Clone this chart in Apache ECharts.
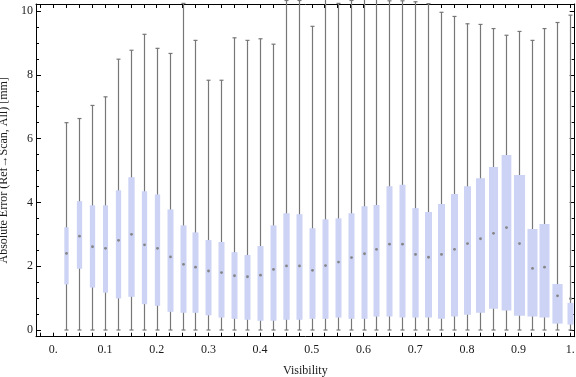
<!DOCTYPE html>
<html><head><meta charset="utf-8">
<script src="https://cdn.jsdelivr.net/npm/echarts@6/dist/echarts.min.js"></script>
<style>html,body{margin:0;padding:0;background:#fff}#c{width:576px;height:377px}</style>
</head><body><div id="c"></div>
<script>
// Visibility bins (box centres)
const visibility = [0.025,0.05,0.075,0.1,0.125,0.15,0.175,0.2,0.225,0.25,0.275,0.3,0.325,0.35,0.375,0.4,0.425,0.45,0.475,0.5,0.525,0.55,0.575,0.6,0.625,0.65,0.675,0.7,0.725,0.75,0.775,0.8,0.825,0.85,0.875,0.9,0.925,0.95,0.975,1.0];
const whiskerMin = [0,0,0,0,0,0,0,0,0,0,0,0,0,0,0,0,0,0,0,0,0,0,0,0,0,0,0,0,0,0,0,0,0,0,0,0,0,0,0,0];
const q1 = [1.43,1.92,1.33,1.17,0.99,1.04,0.81,0.76,0.57,0.54,0.54,0.46,0.39,0.35,0.32,0.29,0.29,0.32,0.32,0.35,0.35,0.39,0.35,0.35,0.42,0.42,0.39,0.39,0.39,0.35,0.42,0.48,0.54,0.67,0.61,0.45,0.42,0.39,0.20,0.17];
const median = [2.40,2.94,2.61,2.56,2.81,3.00,2.67,2.56,2.29,2.06,1.97,1.85,1.80,1.70,1.67,1.72,1.90,2.01,2.01,1.87,2.02,2.13,2.27,2.39,2.53,2.69,2.69,2.37,2.28,2.37,2.53,2.71,2.86,3.03,3.21,2.71,1.93,1.97,1.07,0.98];
const q3 = [3.22,4.04,3.91,3.91,4.38,4.79,4.35,4.25,3.78,3.28,3.06,2.82,2.76,2.44,2.35,2.63,3.28,3.66,3.63,3.19,3.47,3.50,3.66,3.88,3.92,4.51,4.55,3.82,3.70,3.95,4.26,4.51,4.76,5.11,5.49,4.86,3.17,3.32,1.44,0.85];
const whiskerMax = [6.50,6.63,7.04,7.31,8.49,8.77,9.27,8.83,8.67,10.24,9.08,7.83,7.83,9.16,9.08,9.13,8.96,10.33,10.33,9.52,10.6,10.24,10.33,10.6,10.6,10.32,10.32,10.29,10.23,9.96,9.83,9.60,9.58,9.45,9.24,9.36,9.08,9.45,9.64,9.87];
// relative bin weight (box width relative to a typical box)
const binWeight = [0.72,0.88,0.88,0.83,0.88,1.05,0.88,0.88,1,1,1,1,1,1,1,1,1,1.05,1,1,1,1,1,1,1,1,1,1.05,1.17,1.17,1.17,1.17,1.5,1.5,1.62,1.85,1.67,1.67,1.7,1.0];

const xLabelValues = [0,0.1,0.2,0.3,0.4,0.5,0.6,0.7,0.8,0.9,1.0];
const xLabelTexts = ['0.','0.1','0.2','0.3','0.4','0.5','0.6','0.7','0.8','0.9','1.'];
const xTickValues = [];
for (let i = -1; i <= 40; i++) xTickValues.push(+(i * 0.025).toFixed(3));
const yMajorValues = [0,2,4,6,8,10];
const yMinorValues = [];
for (let i = 0; i <= 20; i++) if (i % 4 !== 0) yMinorValues.push(i * 0.5);

const X_MIN = -0.0335, X_MAX = 1.0085, Y_MIN = -0.21, Y_MAX = 10.22;
const FONT = '"Liberation Serif","DejaVu Serif",serif';
const TXT = '#1a1a1a';

const data = visibility.map((v, i) => [v, whiskerMin[i], q1[i], median[i], q3[i], whiskerMax[i], binWeight[i]]);

function renderItem(params, api) {
  const x = api.value(0);
  const pMin = api.coord([x, api.value(1)]);
  const pQ1 = api.coord([x, api.value(2)]);
  const pMed = api.coord([x, api.value(3)]);
  const pQ3 = api.coord([x, api.value(4)]);
  const pMax = api.coord([x, api.value(5)]);
  const w = 6 * api.value(6);
  const cx = Math.round(pMin[0]) + 0.5;
  const ls = { stroke: '#777', lineWidth: 1.2 };
  return {
    type: 'group',
    children: [
      { type: 'line', shape: { x1: cx, y1: pMin[1], x2: cx, y2: pMax[1] }, style: ls },
      { type: 'line', shape: { x1: cx - 2, y1: pMin[1], x2: cx + 2, y2: pMin[1] }, style: ls },
      { type: 'line', shape: { x1: cx - 2, y1: pMax[1], x2: cx + 2, y2: pMax[1] }, style: ls },
      { type: 'rect', shape: { x: cx - w / 2, y: pQ3[1], width: w, height: pQ1[1] - pQ3[1] }, style: { fill: '#ccd3f5' } },
      { type: 'circle', shape: { cx: cx, cy: pMed[1], r: 1.4 }, style: { fill: '#858585' } }
    ]
  };
}

const axLine = { show: true, onZero: false, lineStyle: { color: '#000', width: 1 } };
function xAx(pos, withLabels) {
  return {
    type: 'value', position: pos, min: X_MIN, max: X_MAX,
    axisLine: axLine,
    axisTick: { show: true, inside: true, length: 4, customValues: xTickValues, lineStyle: { color: '#000' } },
    axisLabel: withLabels ? {
      show: true, customValues: xLabelValues, margin: 7,
      fontFamily: FONT, fontSize: 12, color: TXT,
      formatter: v => { const k = xLabelValues.findIndex(t => Math.abs(t - v) < 1e-6); return k >= 0 ? xLabelTexts[k] : ''; }
    } : { show: false },
    splitLine: { show: false },
    name: withLabels ? 'Visibility' : '',
    nameLocation: 'middle', nameGap: 28,
    nameTextStyle: { fontFamily: FONT, fontSize: 12, color: TXT }
  };
}
function yAx(pos, vals, len, withLabels, showLine) {
  return {
    type: 'value', position: pos, min: Y_MIN, max: Y_MAX, offset: 0,
    axisLine: showLine ? axLine : { show: false, onZero: false },
    axisTick: { show: true, inside: true, length: len, customValues: vals, lineStyle: { color: '#000' } },
    axisLabel: withLabels ? { show: true, customValues: vals, margin: 3, fontFamily: FONT, fontSize: 12, color: TXT } : { show: false },
    splitLine: { show: false },
    name: withLabels ? 'Absolute Error (Ref\u2192Scan, All) [mm]' : '',
    nameLocation: 'middle', nameGap: 23,
    nameTextStyle: { fontFamily: FONT, fontSize: 12, color: TXT }
  };
}

const chart = echarts.init(document.getElementById('c'), null, { renderer: 'canvas' });
chart.setOption({
  animation: false,
  backgroundColor: '#fff',
  grid: { left: 36, right: 1.3, top: 4, bottom: 40.3, containLabel: false, outerBoundsMode: 'none' },
  xAxis: [xAx('bottom', true), xAx('top', false)],
  yAxis: [
    yAx('left', yMajorValues, 5, true, true),
    yAx('left', yMinorValues, 3, false, false),
    yAx('right', yMajorValues, 5, false, true),
    yAx('right', yMinorValues, 3, false, false)
  ],
  series: [{
    type: 'custom', xAxisIndex: 0, yAxisIndex: 0, clip: false,
    renderItem: renderItem,
    encode: { x: 0, y: [1, 2, 3, 4, 5] },
    data: data
  }]
});
</script>
</body></html>
